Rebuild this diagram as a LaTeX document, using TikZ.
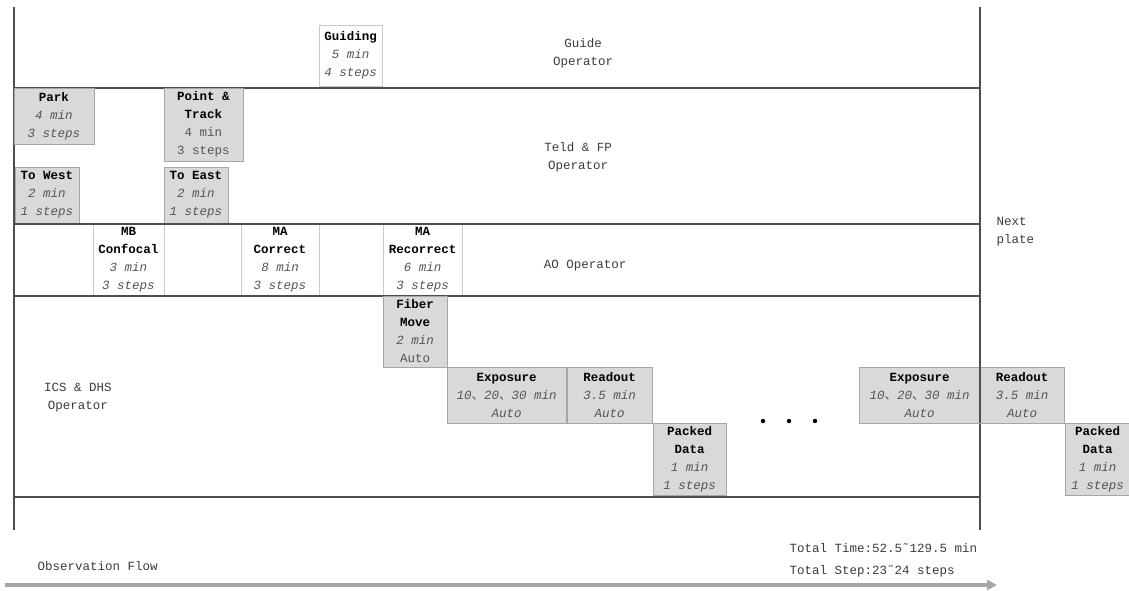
\documentclass[tikz,border=0pt]{standalone}
\usepackage{fontspec}
\setmainfont{Liberation Mono}
\newfontfamily\cjk{Noto Sans CJK SC}
\usetikzlibrary{arrows.meta,positioning}

\definecolor{taskfill}{RGB}{217,217,217}
\definecolor{taskdraw}{RGB}{166,166,166}
\definecolor{slotdraw}{RGB}{200,200,200}
\definecolor{lanecol}{RGB}{77,77,77}
\definecolor{lanetext}{RGB}{60,60,60}
\definecolor{durgray}{RGB}{85,85,85}
\definecolor{flowcol}{RGB}{166,166,166}

\newcommand{\boxfont}{\fontsize{12.5}{18}\selectfont}
\newcommand{\dur}[1]{\textcolor{durgray}{\itshape #1}}
\newcommand{\plain}[1]{\textcolor{durgray}{#1}}
\newcommand{\sep}{{\cjk 、}}

\tikzset{
    task/.style={draw=taskdraw,fill=taskfill,inner sep=0pt,align=center,font=\boxfont},
    slot/.style={draw=slotdraw,fill=white,inner sep=0pt,align=center,font=\boxfont},
    lane/.style={draw=lanecol,line width=1.3pt},
    lanelabel/.style={text=lanetext,align=center,font=\boxfont},
    flow/.style={draw=flowcol,line width=4pt,-{Triangle[length=10pt,width=10pt]}}
}

\begin{document}
\begin{tikzpicture}[x=1pt,y=-1pt]
        \useasboundingbox (0,0) rectangle (1129,590);

        % Lanes
        \draw[lane] (14,7) -- (14,530);
        \draw[lane] (980,7) -- (980,530);
        \foreach \y in {88,224,296,497} {
            \draw[lane] (14,\y) -- (980,\y);
        }

        % Lane labels
        \node[lanelabel] (guideOp) at (583,53) {Guide\\Operator};
        \node[lanelabel] (teldOp) at (578,157) {Teld \& FP\\Operator};
        \node[lanelabel] (aoOp) at (585,266) {AO Operator};
        \node[lanelabel] (icsOp) at (78,398) {ICS \& DHS\\Operator};
        \node[lanelabel,align=left,anchor=west] (nextPlate) at (993,232) {Next\\plate};

        % Guide operator
        \node[slot,minimum width=63pt,minimum height=61pt] (guiding) at (350.5,55.5) {\textbf{Guiding}\\\dur{5 min}\\\dur{4 steps}};

        % Teld & FP operator
        \node[task,minimum width=80pt,minimum height=56pt] (park) at (54,116) {\textbf{Park}\\\dur{4 min}\\\dur{3 steps}};
        \node[task,minimum width=79pt,minimum height=73pt] (pointTrack) at (203.5,124.5) {\textbf{Point \&}\\\textbf{Track}\\\plain{4 min}\\\plain{3 steps}};
        \node[task,minimum width=64pt,minimum height=56pt] (toWest) at (47,195) {\textbf{To West}\\\dur{2 min}\\\dur{1 steps}};
        \node[task,minimum width=64pt,minimum height=56pt] (toEast) at (196,195) {\textbf{To East}\\\dur{2 min}\\\dur{1 steps}};

        % AO operator
        \node[slot,minimum width=71pt,minimum height=72pt] (mbConfocal) at (128.5,260) {\textbf{MB}\\\textbf{Confocal}\\\dur{3 min}\\\dur{3 steps}};
        \node[slot,minimum width=77pt,minimum height=72pt] (aoGap1) at (202.5,260) {};
        \node[slot,minimum width=78pt,minimum height=72pt] (maCorrect) at (280,260) {\textbf{MA}\\\textbf{Correct}\\\dur{8 min}\\\dur{3 steps}};
        \node[slot,minimum width=64pt,minimum height=72pt] (aoGap2) at (351,260) {};
        \node[slot,minimum width=79pt,minimum height=72pt] (maRecorrect) at (422.5,260) {\textbf{MA}\\\textbf{Recorrect}\\\dur{6 min}\\\dur{3 steps}};
        \draw[lane] (14,224) -- (980,224);
        \draw[lane] (14,296) -- (980,296);

        % ICS & DHS operator
        \node[task,minimum width=64pt,minimum height=71pt] (fiberMove) at (415,331.5) {\textbf{Fiber}\\\textbf{Move}\\\dur{2 min}\\\plain{Auto}};
        \node[task,minimum width=119pt,minimum height=56pt] (exposure1) at (506.5,395) {\textbf{Exposure}\\\dur{10\sep20\sep30 min}\\\dur{Auto}};
        \node[task,minimum width=85pt,minimum height=56pt] (readout1) at (609.5,395) {\textbf{Readout}\\\dur{3.5 min}\\\dur{Auto}};
        \node[task,minimum width=73pt,minimum height=72pt] (packed1) at (689.5,459) {\textbf{Packed}\\\textbf{Data}\\\dur{1 min}\\\dur{1 steps}};

        % Repeated exposures
        \foreach \x in {763,789,815} {
            \fill (\x,421) circle (2.2pt);
        }

        \node[task,minimum width=121pt,minimum height=56pt] (exposure2) at (919.5,395) {\textbf{Exposure}\\\dur{10\sep20\sep30 min}\\\dur{Auto}};
        \node[task,minimum width=84pt,minimum height=56pt] (readout2) at (1022,395) {\textbf{Readout}\\\dur{3.5 min}\\\dur{Auto}};
        \node[task,minimum width=65pt,minimum height=72pt] (packed2) at (1097.5,459) {\textbf{Packed}\\\textbf{Data}\\\dur{1 min}\\\dur{1 steps}};
        \draw[lane] (980,367) -- (980,423);

        % Flow
        \coordinate (flowStart) at (5,585);
        \coordinate (flowEnd) at (997,585);
        \draw[flow] (flowStart) -- (flowEnd);
        \node[lanelabel,anchor=west] (flowLabel) at (34,566) {Observation Flow};
        \node[lanelabel,anchor=west,align=left,font=\fontsize{12.5}{22}\selectfont] (totals) at (786,560) {Total Time:52.5˜129.5 min\\Total Step:23˜24 steps};
    \end{tikzpicture}
\end{document}
